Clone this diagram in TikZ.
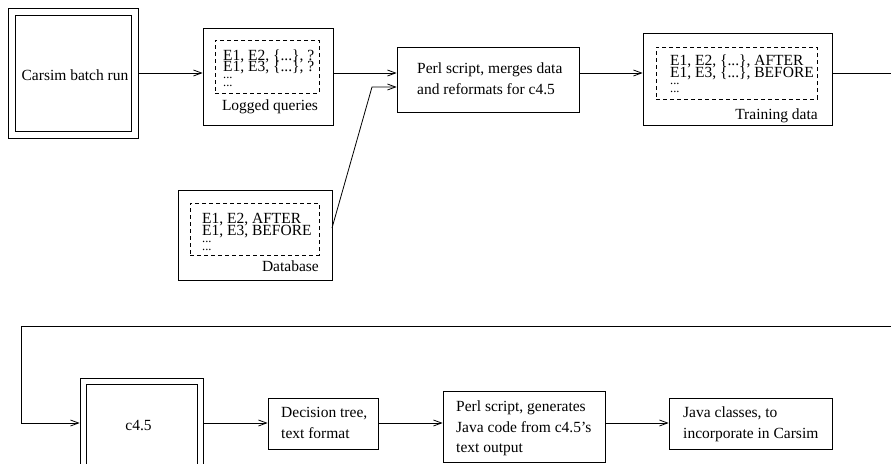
\documentclass[tikz,border=0pt]{standalone}
\usepackage{fontspec}
\setmainfont{Liberation Serif}
\usetikzlibrary{arrows.meta}
\newcommand\qlines[3]{\vbox{\lineskiplimit=-100pt\baselineskip=#3\hbox{#1}\hbox{#2}\baselineskip=7.5pt\hbox{\fontsize{12.5}{8}\selectfont ...}\hbox{\fontsize{12.5}{8}\selectfont ...}}}
\begin{document}
\begin{tikzpicture}[x=1pt,y=-1pt,
  box/.style={draw, line width=0.8pt, inner sep=0pt},
  dbox/.style={draw, line width=0.8pt, dash pattern=on 4pt off 3pt, inner sep=0pt},
  txt/.style={anchor=base west, inner sep=0pt, font=\fontsize{15.5}{18}\selectfont},
  txtc/.style={anchor=base, inner sep=0pt, font=\fontsize{15.5}{18}\selectfont},
  txte/.style={anchor=base east, inner sep=0pt, font=\fontsize{15.5}{18}\selectfont},
  conn/.style={line width=0.8pt, -{Straight Barb[length=8pt,width=6pt]}}]
\useasboundingbox (0,0) rectangle (891,463);
\clip (0,0) rectangle (891,463);
% rows
\coordinate (r1) at (0,73);
\coordinate (r2) at (0,423);
% boxes
\node[box, minimum width=130pt, minimum height=130pt] (carO) at (73,73) {};
\node[box, minimum width=116pt, minimum height=116pt] (carI) at (73,73) {};
\node[box, minimum width=130pt, minimum height=97pt] (logO) at (268,76.5) {};
\node[dbox, minimum width=104pt, minimum height=53pt] (logD) at (267,66.5) {};
\node[box, minimum width=182pt, minimum height=65pt] (perl1) at (488,79.5) {};
\node[box, minimum width=189pt, minimum height=92pt] (train) at (737.5,79) {};
\node[dbox, minimum width=161pt, minimum height=52pt] (trainD) at (736.5,73) {};
\node[box, minimum width=154pt, minimum height=90pt] (db) at (255,235) {};
\node[dbox, minimum width=129pt, minimum height=52pt] (dbD) at (254.5,229) {};
\node[box, minimum width=123pt, minimum height=97pt] (c45O) at (141.5,426.5) {};
\node[box, minimum width=111pt, minimum height=85pt] (c45I) at (141.5,426.5) {};
\node[box, minimum width=110pt, minimum height=51pt] (dec) at (323,423.5) {};
\node[box, minimum width=162pt, minimum height=71pt] (perl2) at (524,426.5) {};
\node[box, minimum width=163pt, minimum height=51pt] (java) at (750.5,423.5) {};
% texts
\node[txtc] (carT) at (75,80) {Carsim batch run};
\node[txt] (logQ) at (223,86) {\qlines{E1, E2, \{...\}, ?}{E1, E3, \{...\}, ?}{11pt}};
\node[txtc] (logT) at (270,110) {Logged queries};
\node[txt] (trQ) at (670,92) {\qlines{E1, E2, \{...\}, AFTER}{E1, E3, \{...\}, BEFORE}{11.5pt}};
\node[txte] (trT) at (818,119) {Training data};
\node[txt] (dbQ) at (202,250) {\qlines{E1, E2, AFTER}{E1, E3, BEFORE}{12pt}};
\node[txte] (dbT) at (319,271) {Database};
\node[txt] (p1a) at (417,73) {Perl script, merges data};
\node[txt] (p1b) at (417,94) {and reformats for c4.5};
\node[txtc] (c45T) at (138.5,430) {c4.5};
\node[txt] (deca) at (281,417) {Decision tree,};
\node[txt] (decb) at (281,438) {text format};
\node[txt] (p2a) at (456,411) {Perl script, generates};
\node[txt] (p2b) at (456,432) {Java code from c4.5's};
\node[txt] (p2c) at (456,452) {text output};
\node[txt] (ja) at (683,417) {Java classes, to};
\node[txt] (jb) at (683,438) {incorporate in Carsim};
% connectors
\draw[conn] (carO.east |- r1) -- (logO.west |- r1);
\draw[conn] (logO.east |- r1) -- (perl1.west |- r1);
\coordinate (dbOut) at (332,228);
\coordinate (bend) at (372,87);
\draw[conn] (dbOut) -- (bend) -- (perl1.west |- bend);
\draw[conn] (perl1.east |- r1) -- (train.west |- r1);
\coordinate (tA) at (900,73);
\coordinate (tB) at (900,326);
\coordinate (tC) at (21,326);
\coordinate (tD) at (21,423);
\draw[conn] (train.east |- r1) -- (tA) -- (tB) -- (tC) -- (tD) -- (c45O.west |- r2);
\draw[conn] (c45O.east |- r2) -- (dec.west |- r2);
\draw[conn] (dec.east |- r2) -- (perl2.west |- r2);
\draw[conn] (perl2.east |- r2) -- (java.west |- r2);
\end{tikzpicture}
\end{document}
